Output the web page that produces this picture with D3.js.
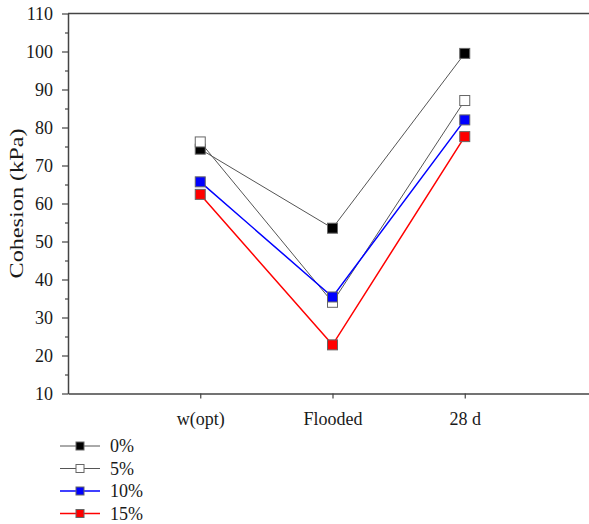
<!DOCTYPE html>
<html>
<head>
<meta charset="utf-8">
<script src="https://cdn.jsdelivr.net/npm/d3@7"></script>
<style>
  html, body { margin: 0; padding: 0; background: #fff; }
  svg { display: block; }
  text { font-family: "Liberation Serif", "Times New Roman", serif; fill: #1a1a1a; }
</style>
</head>
<body>
<svg id="chart" width="589" height="524"></svg>
<script>
const categories = ["w(opt)", "Flooded", "28 d"];
const seriesNames = ["0%", "5%", "10%", "15%"];
const values0 = [74.3, 53.5, 99.5];
const values5 = [76.2, 34.0, 87.1];
const values10 = [65.7, 35.4, 82.0];
const values15 = [62.4, 22.8, 77.6];
const yTicks = [10, 20, 30, 40, 50, 60, 70, 80, 90, 100, 110];

const series = [
  { name: seriesNames[0], values: values0, fill: "#000000", line: "#555555", lw: 1 },
  { name: seriesNames[1], values: values5, fill: "#ffffff", line: "#555555", lw: 1 },
  { name: seriesNames[2], values: values10, fill: "#0000ff", line: "#0000ff", lw: 1.5 },
  { name: seriesNames[3], values: values15, fill: "#ff0000", line: "#ff0000", lw: 1.5 }
];

const serif = "'Liberation Serif', 'Times New Roman', serif";
const svg = d3.select("#chart");
const x = d3.scaleLinear().domain([0, 4]).range([68, 597]);
const y = d3.scaleLinear().domain([10, 110]).range([393.5, 13.5]);

// frame
svg.append("line").attr("x1", 68).attr("x2", 597).attr("y1", y(110)).attr("y2", y(110))
  .attr("stroke", "#444").attr("stroke-width", 1.5);
svg.append("line").attr("x1", 597).attr("x2", 597).attr("y1", y(110)).attr("y2", y(10))
  .attr("stroke", "#444").attr("stroke-width", 1.5);

// Y axis
const minor = d3.range(15, 110, 10);
const yAxisMinor = d3.axisLeft(y).tickValues(minor).tickSize(3).tickFormat("");
svg.append("g").attr("transform", "translate(68,0)").call(yAxisMinor)
  .call(s => { s.select(".domain").remove(); s.selectAll("line").attr("stroke", "#444").attr("stroke-width", 1.2); });
const yAxis = d3.axisLeft(y).tickValues(yTicks).tickSize(6).tickSizeOuter(0).tickPadding(9);
svg.append("g").attr("transform", "translate(68,0)").call(yAxis)
  .attr("font-family", serif).attr("font-size", 18)
  .call(s => {
    s.select(".domain").attr("stroke", "#444").attr("stroke-width", 1.5);
    s.selectAll("line").attr("stroke", "#444").attr("stroke-width", 1.2);
    s.selectAll("text").style("font-family", serif).style("font-size", "18px").attr("fill", "#1a1a1a");
  });

// X axis
const xAxis = d3.axisBottom(x).tickValues([1, 2, 3]).tickSize(5).tickSizeOuter(0)
  .tickFormat(d => categories[d - 1]).tickPadding(14);
svg.append("g").attr("transform", `translate(0,${y(10)})`).call(xAxis)
  .attr("font-family", serif).attr("font-size", 18)
  .call(s => {
    s.select(".domain").attr("stroke", "#444").attr("stroke-width", 1.5);
    s.selectAll("line").attr("stroke", "#444").attr("stroke-width", 1.2);
    s.selectAll("text").style("font-family", serif).style("font-size", "18px").attr("fill", "#1a1a1a");
  });

// Y label
svg.append("text")
  .attr("transform", `translate(23,${y(60)}) rotate(-90)`)
  .attr("text-anchor", "middle")
  .attr("textLength", 150).attr("lengthAdjust", "spacingAndGlyphs")
  .style("font-family", serif)
  .style("font-size", "19px")
  .text("Cohesion  (kPa)");

// Series
const line = d3.line().x((d, i) => x(i + 1)).y(d => y(d));
series.forEach(s => {
  svg.append("path").datum(s.values).attr("d", line)
    .attr("fill", "none").attr("stroke", s.line).attr("stroke-width", s.lw);
});
series.forEach(s => {
  svg.append("g").selectAll("rect").data(s.values).join("rect")
    .attr("x", (d, i) => x(i + 1) - 5).attr("y", d => y(d) - 5)
    .attr("width", 10).attr("height", 10)
    .attr("fill", s.fill).attr("stroke", "#666").attr("stroke-width", 1);
});

// Legend
const leg = svg.append("g");
series.forEach((s, i) => {
  const ly = 446 + i * 22.5;
  leg.append("line").attr("x1", 60).attr("x2", 100).attr("y1", ly).attr("y2", ly)
    .attr("stroke", s.line).attr("stroke-width", s.lw);
  leg.append("rect").attr("x", 76).attr("y", ly - 4).attr("width", 8).attr("height", 8)
    .attr("fill", s.fill).attr("stroke", "#666").attr("stroke-width", 1);
  leg.append("text").attr("x", 110).attr("y", ly + 6)
    .style("font-family", serif).style("font-size", "18px").text(s.name);
});
</script>
</body>
</html>
